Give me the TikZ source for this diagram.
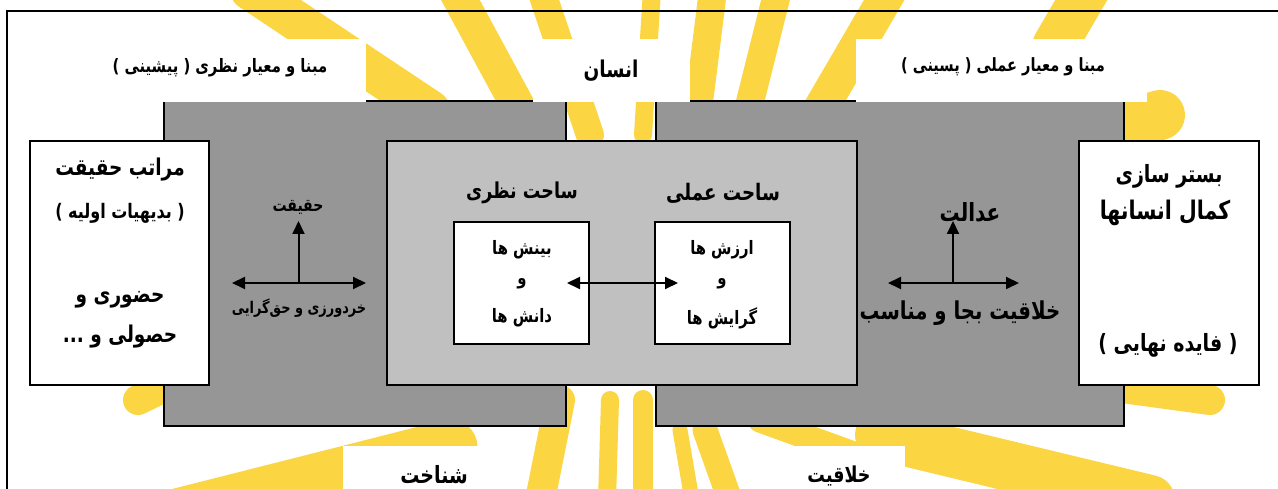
\documentclass[tikz,border=0pt]{standalone}
\usepackage{fontspec}
\usepackage{graphicx}
\TeXXeTstate=1
\newfontfamily\fa[Script=Arabic]{DejaVu Sans}
\usetikzlibrary{arrows.meta,calc}
\definecolor{raycol}{RGB}{252,214,66}
\definecolor{dg}{RGB}{150,150,150}
\definecolor{lg}{RGB}{192,192,192}
\newcommand{\rtl}[1]{\scalebox{1}[1.25]{\beginR #1\endR}}
\newcommand{\fs}[1]{\fa\bfseries\fontsize{#1}{#1}\selectfont}
\begin{document}
\begin{tikzpicture}[x=1pt,y=-1pt,
  raystroke/.style={draw=raycol, line cap=round},
  boxbase/.style={anchor=north west, inner sep=0pt, outer sep=0pt},
  darkbox/.style={boxbase, draw=black, line width=1.8pt, fill=dg},
  lightbox/.style={boxbase, draw=black, line width=1.8pt, fill=lg},
  whitebox/.style={boxbase, draw=black, line width=1.8pt, fill=white},
  labelbox/.style={boxbase, fill=white},
  txt/.style={inner sep=0pt},
  arr/.style={line width=2pt, -{Triangle[length=13pt,width=12pt]}},
  darr/.style={line width=2pt, {Triangle[length=13pt,width=12pt]}-{Triangle[length=13pt,width=12pt]}}
]
\useasboundingbox (0,0) rectangle (1278,489);
\fill[white] (0,0) rectangle (1278,489);
% background rays
\draw[raystroke, line width=40pt] (250,-10) -- (430,110);
\draw[raystroke, line width=34pt] (455,-10) -- (520,110);
\draw[raystroke, line width=28pt] (541,-10) -- (590,135);
\draw[raystroke, line width=18pt] (652,-10) -- (643,135);
\draw[raystroke, line width=28pt] (713,-10) -- (698,110);
\draw[raystroke, line width=28pt] (778,-10) -- (748,110);
\draw[raystroke, line width=35pt] (890,-10) -- (820,110);
\draw[raystroke, line width=45pt] (1090,-15) -- (1055,45);
\draw[raystroke, line width=50pt] (1000,165) -- (1160,115);
\draw[raystroke, line width=30pt] (200,370) -- (138,400);
\draw[raystroke, line width=55pt] (450,447) -- (150,523);
\draw[raystroke, line width=30pt] (560,400) -- (540,500);
\draw[raystroke, line width=18pt] (610,400) -- (607,500);
\draw[raystroke, line width=20pt] (643,400) -- (643,500);
\draw[raystroke, line width=15pt] (680,430) -- (692,500);
\draw[raystroke, line width=25pt] (705,430) -- (730,500);
\draw[raystroke, line width=25pt] (760,420) -- (870,460);
\draw[raystroke, line width=50pt] (880,435) -- (1150,500);
\draw[raystroke, line width=30pt] (1100,385) -- (1210,400);
% frame
\draw[line width=2pt] (7,520) -- (7,11) -- (1300,11);
% dark boxes
\node[darkbox, minimum width=402pt, minimum height=325pt] (gl) at (164,101) {};
\node[darkbox, minimum width=468pt, minimum height=325pt] (gr) at (656,101) {};
% label boxes
\node[labelbox, minimum width=306pt, minimum height=63pt] (lb1) at (60,39) {};
\node[labelbox, minimum width=157pt, minimum height=63pt] (lb2) at (533,39) {};
\node[labelbox, minimum width=291pt, minimum height=63pt] (lb3) at (856,39) {};
\node[labelbox, minimum width=180pt, minimum height=50pt] (lb4) at (343,446) {};
\node[labelbox, minimum width=160pt, minimum height=50pt] (lb5) at (745,446) {};
% central and side boxes
\node[lightbox, minimum width=470pt, minimum height=244pt] (ctr) at (387,141) {};
\node[whitebox, minimum width=179pt, minimum height=244pt] (wl) at (30,141) {};
\node[whitebox, minimum width=180pt, minimum height=244pt] (wr) at (1079,141) {};
\node[whitebox, minimum width=135pt, minimum height=122pt] (in1) at (454,222) {};
\node[whitebox, minimum width=135pt, minimum height=122pt] (in2) at (655,222) {};
% arrows
\coordinate (c1) at ($(in1.east)+(-22,0)$);
\coordinate (c2) at ($(in2.west)+(23,0)$);
\draw[darr] (c1) -- (c2);
\coordinate (la) at (232,283);
\coordinate (lb) at (366,283);
\coordinate (lm) at (298.5,283);
\coordinate (lt) at (298.5,221);
\draw[darr] (la) -- (lb);
\draw[arr] (lm) -- (lt);
\coordinate (ra) at (888,283);
\coordinate (rb) at (1019,283);
\coordinate (rm) at (953,283);
\coordinate (rt) at (953,221);
\draw[darr] (ra) -- (rb);
\draw[arr] (rm) -- (rt);
% texts
\node[txt, font=\fs{14.8}] (t1) at (220,68) {\rtl{مبنا و معیار نظری ( پیشینی )}};
\node[txt, font=\fs{18.5}] (t2) at (611,71) {\rtl{انسان}};
\node[txt, font=\fs{14.6}] (t3) at (1003,67) {\rtl{مبنا و معیار عملی ( پسینی )}};
\node[txt, font=\fs{18.5}] (t4) at (120,170) {\rtl{مراتب حقیقت}};
\node[txt, font=\fs{16}] (t5) at (120,213) {\rtl{( بدیهیات اولیه )}};
\node[txt, font=\fs{18.5}] (t6) at (120,300) {\rtl{حضوری و}};
\node[txt, font=\fs{18.5}] (t7) at (120,337) {\rtl{حصولی و ...}};
\node[txt, font=\fs{19}] (t8) at (1169,176) {\rtl{بستر سازی}};
\node[txt, font=\fs{20.5}] (t9) at (1165,213) {\rtl{کمال انسانها}};
\node[txt, font=\fs{19}] (t10) at (1168,345) {\rtl{( فایده نهایی )}};
\node[txt, font=\fs{17.5}] (t11) at (522,193) {\rtl{ساحت نظری}};
\node[txt, font=\fs{18.2}] (t12) at (723,193) {\rtl{ساحت عملی}};
\node[txt, font=\fs{14.8}] (t13) at (522,250) {\rtl{بینش ها}};
\node[txt, font=\fs{14.8}] (t14) at (522,284) {\rtl{و}};
\node[txt, font=\fs{14.8}] (t15) at (522,318) {\rtl{دانش ها}};
\node[txt, font=\fs{14.8}] (t16) at (722,250) {\rtl{ارزش ها}};
\node[txt, font=\fs{14.8}] (t17) at (722,284) {\rtl{و}};
\node[txt, font=\fs{14.8}] (t18) at (722,318) {\rtl{گرایش ها}};
\node[txt, font=\fs{14}] (t19) at (298,207) {\rtl{حقیقت}};
\node[txt, font=\fs{12.9}] (t20) at (299,308) {\rtl{خردورزی و حق‌گرایی}};
\node[txt, font=\fs{20}] (t21) at (970,212) {\rtl{عدالت}};
\node[txt, font=\fs{19.7}] (t22) at (960,313) {\rtl{خلاقیت بجا و مناسب}};
\node[txt, font=\fs{19}] (t23) at (434,475) {\rtl{شناخت}};
\node[txt, font=\fs{17.5}] (t24) at (839,476) {\rtl{خلاقیت}};
\end{tikzpicture}
\end{document}
